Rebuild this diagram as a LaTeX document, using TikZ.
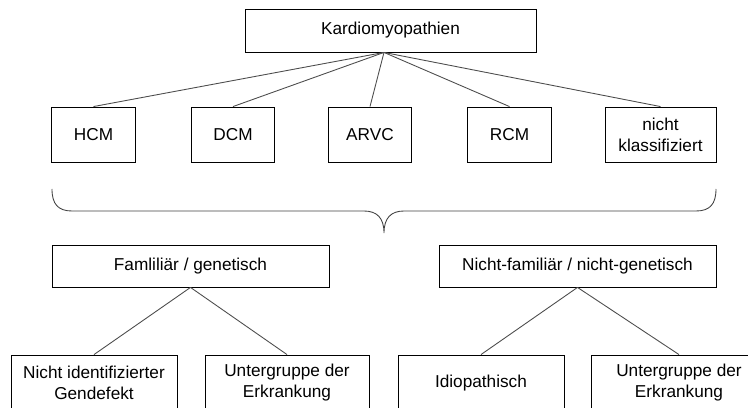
\documentclass[tikz,border=0pt]{standalone}
\usepackage{fontspec}
\setmainfont{Liberation Sans}
\usepackage{tikz}

\tikzset{
  box/.style={draw, line width=0.5pt, align=center, inner sep=0pt,
    font=\fontsize{9.8}{12}\selectfont},
  typbox/.style={box, minimum width=1.67cm, minimum height=1.1cm},
  groupbox/.style={box, minimum width=5.54cm, minimum height=0.84cm},
  leafbox/.style={box, minimum width=3.32cm, minimum height=1.12cm},
  link/.style={draw=black!70, line width=0.5pt}
}

\begin{document}
\begin{tikzpicture}[x=0.02cm, y=-0.02cm]
      \useasboundingbox (0,0) rectangle (748,408);
      \clip (0,0) rectangle (748,408);
      \node[box, minimum width=5.82cm, minimum height=0.86cm] (kardio) at (390.5,30.5) {Kardiomyopathien};
      \node[typbox] (hcm) at (93.5,134.5) {HCM};
      \node[typbox] (dcm) at (233,134.5) {DCM};
      \node[typbox] (arvc) at (370,134.5) {ARVC};
      \node[typbox] (rcm) at (509.5,134.5) {RCM};
      \node[typbox, minimum width=2.22cm] (nk) at (660.5,134.5) {nicht\\klassifiziert};
      \coordinate (kroot) at ([xshift=-0.13cm]kardio.south);
      \foreach \n in {hcm,dcm,arvc,rcm,nk}
        \draw[link] (kroot) -- (\n.north);
      \draw[line width=0.5pt, black!75] (52,189) .. controls (52,204) and (58,211) .. (72,211)
        -- (364,211) .. controls (377,211) and (384,218) .. (384,233)
        .. controls (384,218) and (391,211) .. (404,211)
        -- (696,211) .. controls (710,211) and (716,204) .. (716,189);
      \node[groupbox] (fam) at (190.5,266) {Famliliär / genetisch};
      \node[groupbox] (nfam) at (577.5,266) {Nicht-familiär / nicht-genetisch};
      \node[leafbox] (gendef) at (94,383) {Nicht identifizierter\\Gendefekt};
      \node[leafbox, minimum width=3.28cm] (ugfam) at (287,383) {Untergruppe der\\Erkrankung};
      \node[leafbox] (idio) at (481,383) {Idiopathisch};
      \node[leafbox, minimum width=3.5cm] (ugnfam) at (679,383) {Untergruppe der\\Erkrankung};
      \draw[link] (fam.south) -- (gendef.north);
      \draw[link] (fam.south) -- (ugfam.north);
      \draw[link] (nfam.south) -- (idio.north);
      \draw[link] (nfam.south) -- (ugnfam.north);
\end{tikzpicture}
\end{document}
